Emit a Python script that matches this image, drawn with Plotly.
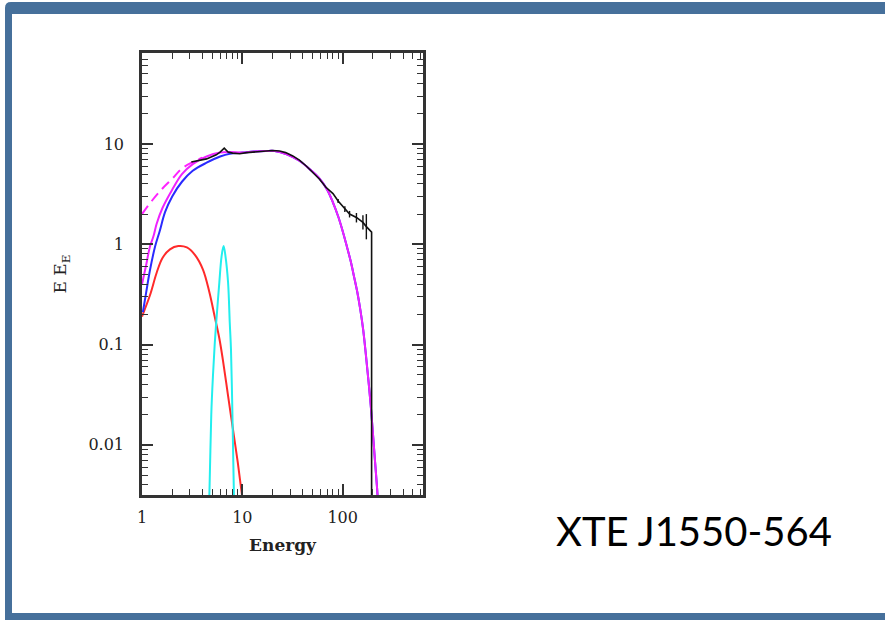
import plotly.graph_objects as go

# ---- data (Energy, E*E_E) ----
data_E = [3.1, 3.6, 4.4, 5.5, 6.0, 6.6, 7.2, 8.0, 9.4, 11, 13, 15, 17.4, 20, 23.5, 27,
          31.8, 37, 43.6, 50, 58.8, 68, 80, 90, 105, 117, 137, 159, 172, 194, 194]
data_y = [6.6, 6.8, 7.1, 7.8, 8.3, 9.1, 8.3, 8.1, 8.0, 8.2, 8.3, 8.5, 8.6, 8.6, 8.5, 8.2,
          7.6, 6.9, 6.0, 5.2, 4.45, 3.7, 3.2, 2.7, 2.25, 2.0, 1.85, 1.65, 1.5, 1.32, 0.0001]
data_err_up = [0]*23 + [0.12, 0.15, 0.15, 0.2, 0.3, 0.5, 0, 0]
data_err_dn = [0]*23 + [0.12, 0.15, 0.15, 0.2, 0.25, 0.38, 0, 0]

total_E = [1.0, 1.1, 1.2, 1.3, 1.4, 1.6, 2.0, 2.5, 3.2, 4.4, 6.0, 7.5, 10, 13, 17, 21,
           27.7, 37, 47, 58, 70, 80, 90, 100, 110, 120, 130, 140, 150, 160, 170, 180,
           190, 200, 210, 220, 230]
total_y = [0.40, 0.62, 0.95, 1.2, 1.6, 2.3, 3.5, 5.0, 6.3, 7.5, 8.2, 8.3, 8.2, 8.4, 8.5, 8.5,
           7.9, 6.8, 5.6, 4.6, 3.5, 2.6, 1.9, 1.35, 0.95, 0.68, 0.47, 0.33, 0.22, 0.14, 0.08, 0.045,
           0.025, 0.013, 0.0068, 0.0037, 0.0019]

dashed_E = [1.0, 1.25, 1.6, 2.0, 2.5, 3.2, 4.0]
dashed_y = [2.0, 2.7, 3.6, 4.5, 5.7, 6.6, 7.3]

comp_E = [1.02, 1.1, 1.2, 1.35, 1.5, 1.7, 2.0, 2.5, 3.2, 4.4, 6.0, 7.5, 10, 13, 17, 21,
          27.7, 37, 47, 58, 70, 80, 90, 100, 110, 120, 130, 140, 150, 160, 170, 180,
          190, 200, 210, 220, 230]
comp_y = [0.21, 0.33, 0.55, 0.95, 1.35, 2.1, 3.0, 4.2, 5.4, 6.5, 7.5, 8.0, 8.2, 8.4, 8.5, 8.5,
          7.9, 6.8, 5.6, 4.6, 3.5, 2.6, 1.9, 1.35, 0.95, 0.68, 0.47, 0.33, 0.22, 0.14, 0.08, 0.045,
          0.025, 0.013, 0.0068, 0.0037, 0.0019]

disk_E = [1.0, 1.2, 1.4, 1.6, 1.9, 2.3, 2.8, 3.35, 4.05, 4.7, 5.3, 5.9, 6.4, 7.2, 8.05, 9.0, 9.75, 10.4]
disk_y = [0.19, 0.31, 0.52, 0.73, 0.89, 0.96, 0.93, 0.79, 0.56, 0.33, 0.19, 0.115, 0.07, 0.031,
          0.0144, 0.0067, 0.0036, 0.0022]

line_E = [4.6, 4.7, 4.9, 5.1, 5.3, 5.5, 5.9, 6.2, 6.5, 6.8, 7.2, 7.5, 7.7, 7.9, 8.1, 8.25, 8.35]
line_y = [0.002, 0.0034, 0.02, 0.05, 0.1, 0.17, 0.42, 0.75, 0.96, 0.75, 0.42, 0.16, 0.09, 0.03,
          0.008, 0.003, 0.002]

x_ticks = [1, 10, 100]
x_tick_text = ["1", "10", "100"]
y_ticks = [0.01, 0.1, 1, 10]
y_tick_text = ["0.01", "0.1", "1", "10"]

fig = go.Figure()
fig.add_trace(go.Scatter(x=disk_E, y=disk_y, mode="lines", line=dict(color="#ff2a2a", width=2, shape="spline")))
fig.add_trace(go.Scatter(x=line_E, y=line_y, mode="lines", line=dict(color="#22eeee", width=2, shape="spline")))
fig.add_trace(go.Scatter(x=comp_E, y=comp_y, mode="lines", line=dict(color="#2a2aff", width=2, shape="spline")))
fig.add_trace(go.Scatter(x=dashed_E, y=dashed_y, mode="lines",
                         line=dict(color="#ff22ff", width=2, dash="10px,6px", shape="spline")))
fig.add_trace(go.Scatter(x=total_E, y=total_y, mode="lines", line=dict(color="#ee22ff", width=2, shape="spline")))
fig.add_trace(go.Scatter(x=data_E, y=data_y, mode="lines",
                         line=dict(color="#111111", width=1.6),
                         error_y=dict(type="data", symmetric=False, array=data_err_up, arrayminus=data_err_dn,
                                      color="#111111", thickness=1.4, width=0)))

tickfont = dict(family="DejaVu Serif", size=16, color="#222")
fig.update_xaxes(type="log", range=[0, 2.8], tickvals=x_ticks, ticktext=x_tick_text,
                 ticks="inside", ticklen=11, tickwidth=1.5, tickcolor="#333",
                 minor=dict(ticks="inside", ticklen=6, tickwidth=1.3, tickcolor="#333", dtick="D1", showgrid=False),
                 showline=True, linecolor="#333", linewidth=2.5, mirror="ticks",
                 showgrid=False, zeroline=False, tickfont=tickfont, ticklabelstandoff=6,
                 title=dict(text="<b>Energy</b>", font=dict(family="DejaVu Serif", size=17, color="#222"), standoff=14))
fig.update_yaxes(type="log", range=[-2.5, 1.907], tickvals=y_ticks, ticktext=y_tick_text,
                 ticks="inside", ticklen=11, tickwidth=1.5, tickcolor="#333",
                 minor=dict(ticks="inside", ticklen=6, tickwidth=1.3, tickcolor="#333", dtick="D1", showgrid=False),
                 showline=True, linecolor="#333", linewidth=2.5, mirror="ticks",
                 showgrid=False, zeroline=False, tickfont=tickfont, ticklabelstandoff=12,
                 title=dict(text="E E<sub>E</sub>", font=dict(family="DejaVu Serif", size=17, color="#222"), standoff=18))

W, H = 885, 620
L, R, T, B = 142, 462, 53, 125
pw, ph = W - L - R, H - T - B

def px(x):
    return (x - L) / pw

def py(y):
    return (H - B - y) / ph

def pt(x, y):
    return f"{px(x):.5f},{py(y):.5f}"

frame = "#46709b"
frame_path = ("M " + pt(5, 620) + " L " + pt(5, 8) + " Q " + pt(5, 2) + " " + pt(11, 2) +
              " L " + pt(885, 2) + " L " + pt(885, 14) + " L " + pt(12, 14) +
              " L " + pt(12, 613) + " L " + pt(885, 613) + " L " + pt(885, 620) + " Z")
shapes = [dict(type="path", xref="paper", yref="paper", path=frame_path,
               fillcolor=frame, line=dict(width=0), layer="below")]

fig.update_layout(
    width=W, height=H, margin=dict(l=L, r=R, t=T, b=B, autoexpand=False),
    paper_bgcolor="white", plot_bgcolor="white", showlegend=False,
    shapes=shapes,
    annotations=[dict(text="XTE J1550-564", xref="paper", yref="paper", x=px(694), y=py(531),
                      xanchor="center", yanchor="middle", showarrow=False,
                      font=dict(family="Lato", size=40, color="#000"))],
)

fig.write_html("out.html", config={"displayModeBar": False},
               post_script="document.body.style.margin='0';document.body.style.overflow='hidden';")
